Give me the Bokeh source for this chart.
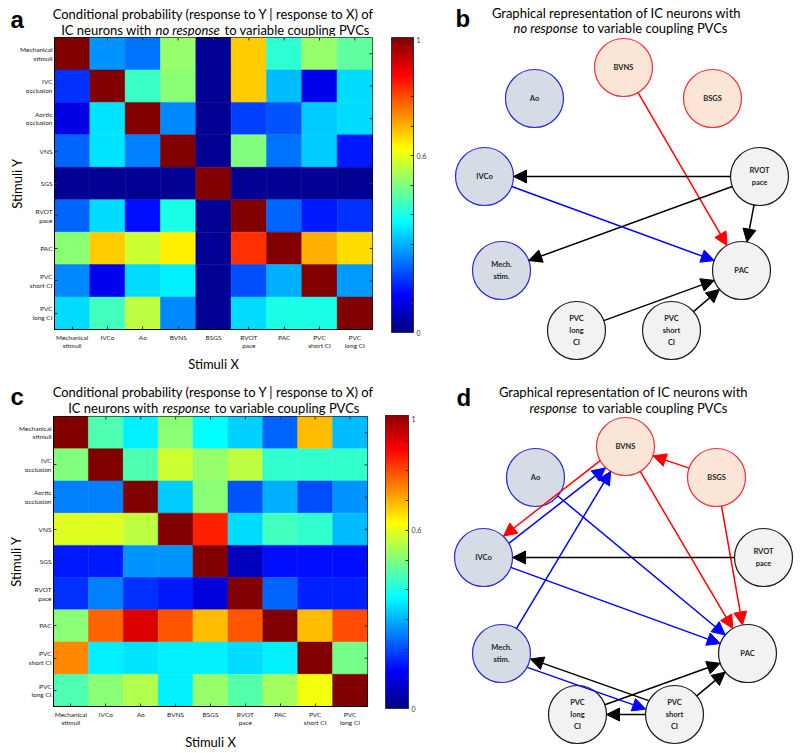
import math
import numpy as np
from bokeh.plotting import figure
from bokeh.models import (ColorBar, LinearColorMapper, FixedTicker, Arrow,
                          NormalHead, ColumnDataSource, Range1d, FactorRange)
from bokeh.layouts import row, column
from bokeh.transform import transform
from bokeh.embed import file_html
from bokeh.resources import INLINE
from bokeh.core.properties import value

# ---------------- data ----------------
stimuli_y = ["Mechanical\nstimuli", "IVC\nocclusion", "Aortic\nocclusion", "VNS", "SGS",
             "RVOT\npace", "PAC", "PVC\nshort CI", "PVC\nlong CI"]
stimuli_x = ["Mechanical\nstimuli", "IVCo", "Ao", "BVNS", "BSGS", "RVOT\npace", "PAC",
             "PVC\nshort CI", "PVC\nlong CI"]

# rows = stimuli Y (top to bottom), columns = stimuli X (left to right)
prob_no_response = [
    [1.00, 0.27, 0.24, 0.52, 0.02, 0.675, 0.42, 0.52, 0.47],
    [0.175, 1.00, 0.43, 0.51, 0.02, 0.675, 0.31, 0.11, 0.34],
    [0.10, 0.35, 1.00, 0.26, 0.02, 0.19, 0.21, 0.325, 0.34],
    [0.225, 0.35, 0.25, 1.00, 0.02, 0.50, 0.24, 0.325, 0.15],
    [0.02, 0.02, 0.02, 0.02, 1.00, 0.02, 0.02, 0.02, 0.02],
    [0.225, 0.34, 0.14, 0.40, 0.02, 1.00, 0.225, 0.15, 0.175],
    [0.51, 0.675, 0.575, 0.64, 0.02, 0.825, 1.00, 0.70, 0.66],
    [0.26, 0.11, 0.34, 0.36, 0.02, 0.20, 0.30, 1.00, 0.275],
    [0.34, 0.44, 0.56, 0.26, 0.02, 0.34, 0.40, 0.40, 1.00],
]
prob_response = [
    [1.00, 0.45, 0.36, 0.51, 0.375, 0.33, 0.225, 0.69, 0.31],
    [0.50, 1.00, 0.45, 0.575, 0.52, 0.56, 0.425, 0.425, 0.425],
    [0.25, 0.25, 1.00, 0.325, 0.51, 0.21, 0.30, 0.20, 0.27],
    [0.59, 0.59, 0.56, 1.00, 0.84, 0.34, 0.44, 0.425, 0.31],
    [0.15, 0.15, 0.27, 0.27, 1.00, 0.06, 0.14, 0.14, 0.14],
    [0.175, 0.25, 0.175, 0.15, 0.09, 1.00, 0.225, 0.16, 0.16],
    [0.51, 0.775, 0.91, 0.79, 0.69, 0.79, 1.00, 0.69, 0.80],
    [0.74, 0.36, 0.35, 0.36, 0.36, 0.34, 0.36, 1.00, 0.49],
    [0.45, 0.51, 0.55, 0.36, 0.52, 0.46, 0.535, 0.61, 1.00],
]

colorbar_ticks = [0, 0.6, 1]
colorbar_minor = [0.1, 0.2, 0.3, 0.4, 0.5, 0.7, 0.8, 0.9]

node_names = ["BVNS", "Ao", "BSGS", "IVCo", "RVOT", "Mech", "PAC", "PVCl", "PVCs"]
node_labels = ["BVNS", "Ao", "BSGS", "IVCo", "RVOT\npace", "Mech.\nstim.", "PAC",
               "PVC\nlong\nCI", "PVC\nshort\nCI"]
node_group = ["red", "blue", "red", "blue", "grey", "blue", "grey", "grey", "grey"]

# graph layouts (layout coordinates, y downwards)
b_node_x = [193, 104, 282, 54, 329, 71, 311, 146, 241]
b_node_y = [67, 98, 98, 176, 176, 270, 270, 330, 330]
d_node_x = [195, 105, 286, 53, 333, 71, 317, 147, 244]
d_node_y = [62, 93, 93, 173, 173, 269, 269, 330, 330]

b_edge_from = ["BVNS", "RVOT", "RVOT", "RVOT", "IVCo", "PVCl", "PVCs"]
b_edge_to = ["PAC", "IVCo", "Mech", "PAC", "PAC", "PAC", "PAC"]
b_edge_kind = ["red", "grey", "grey", "grey", "blue", "grey", "grey"]

d_edge_from = ["BSGS", "BVNS", "IVCo", "Mech", "Ao", "BVNS", "BSGS", "RVOT", "IVCo",
               "Mech", "PVCs", "PVCl", "PVCs", "PVCs"]
d_edge_to = ["BVNS", "IVCo", "BVNS", "BVNS", "PAC", "PAC", "PAC", "IVCo", "PAC",
             "PVCs", "Mech", "PAC", "PAC", "PVCl"]
d_edge_kind = ["red", "red", "blue", "blue", "blue", "red", "red", "grey", "blue",
               "blue", "grey", "grey", "grey", "grey"]

# ---------------- styles ----------------
FONT = "Lato"
TITLE_SIZE = "13px"
BASE_FIX = 4  # rendered baseline sits lower than requested
node_fill = {"red": "#fbe5d6", "blue": "#d6dce5", "grey": "#f2f2f2"}
node_line = {"red": "#e8323c", "blue": "#2a2ad0", "grey": "#1a1a1a"}
edge_color = {"red": "#ff0000", "blue": "#0000ff", "grey": "#000000"}
R = 29


def jet(n=256):
    t = np.linspace(0, 1, n)
    r = np.clip(1.5 - np.abs(4 * t - 3), 0, 1)
    g = np.clip(1.5 - np.abs(4 * t - 2), 0, 1)
    b = np.clip(1.5 - np.abs(4 * t - 1), 0, 1)
    return ["#%02x%02x%02x" % (int(round(255 * a)), int(round(255 * c)), int(round(255 * d)))
            for a, c, d in zip(r, g, b)]


JET = jet()


def canvas_fig(w, h):
    p = figure(width=w, height=h, x_range=Range1d(0, w), y_range=Range1d(h, 0),
               output_backend="svg", toolbar_location=None, min_border=0,
               x_axis_location=None, y_axis_location=None, title=None, frame_align=False)
    p.grid.visible = False
    p.outline_line_color = None
    return p


def put(p, x, y, text, size=TITLE_SIZE, style="normal", align="left",
        font=FONT, color="#000000"):
    p.text(x=[x], y=[y - BASE_FIX], text=[text], text_font=value(font), text_font_size=size,
           text_font_style=style, text_align=align, text_baseline="alphabetic",
           text_color=color)


def title_block(w, h, letter, lx, lby, cx, by1, by2, line1, prefix, pend, italic, ix,
                suffix, sx):
    p = canvas_fig(w, h)
    put(p, lx, lby, letter, size="24px", style="bold", font="Liberation Sans")
    put(p, cx, by1, line1, align="center")
    if prefix:
        put(p, pend, by2, prefix, align="right")
    put(p, ix, by2, italic, style="italic")
    put(p, sx, by2, suffix)
    return p


def heatmap(vals, w, h, bl, bt, br, bb, cb_loc, cb_w, cb_h, xlab_standoff):
    xs, ys, vs = [], [], []
    for i, yl in enumerate(stimuli_y):
        for j, xl in enumerate(stimuli_x):
            xs.append(xl)
            ys.append(yl)
            vs.append(vals[i][j])
    src = ColumnDataSource(dict(x=xs, y=ys, v=vs))
    mapper = LinearColorMapper(palette=JET, low=0, high=1)
    p = figure(width=w, height=h, x_range=FactorRange(*stimuli_x),
               y_range=FactorRange(*stimuli_y[::-1]), output_backend="svg",
               toolbar_location=None, min_border_left=bl, min_border_top=bt,
               min_border_right=br, min_border_bottom=bb, title=None, frame_align=False)
    p.rect("x", "y", 1, 1, source=src, fill_color=transform("v", mapper),
           line_color=transform("v", mapper), line_width=0.5)
    # inward box ticks on the top and right edges (categorical offsets)
    p.ray(x=stimuli_x, y=[(stimuli_y[0], 0.5)] * len(stimuli_x), length=3,
          length_units="screen", angle=-math.pi / 2, line_color="#333333", line_width=1)
    p.ray(x=[(stimuli_x[-1], 0.5)] * len(stimuli_y), y=stimuli_y, length=3,
          length_units="screen", angle=math.pi, line_color="#333333", line_width=1)
    p.grid.visible = False
    p.outline_line_color = "black"
    p.outline_line_width = 1
    for ax in (p.xaxis[0], p.yaxis[0]):
        ax.major_label_text_font = FONT
        ax.major_label_text_font_size = "6.5px"
        ax.major_label_text_color = "#1a1a1a"
        ax.major_tick_in = 3
        ax.major_tick_out = 0
        ax.major_tick_line_color = "#333333"
        ax.axis_line_color = "black"
        ax.major_label_text_line_height = 1.25
        ax.axis_label_text_font = FONT
        ax.axis_label_text_font_size = "13px"
        ax.axis_label_text_font_style = "normal"
        ax.axis_label_text_color = "#000000"
    p.xaxis.axis_label = "Stimuli X"
    p.yaxis.axis_label = "Stimuli Y"
    p.xaxis.major_label_standoff = 4
    p.yaxis.major_label_standoff = 2
    p.xaxis.axis_label_standoff = xlab_standoff
    p.yaxis.axis_label_standoff = -8
    cb = ColorBar(color_mapper=mapper,
                  ticker=FixedTicker(ticks=colorbar_ticks, minor_ticks=colorbar_minor),
                  major_label_overrides={0: "0", 0.6: "0.6", 1: "1"},
                  location=cb_loc, width=cb_w, height=cb_h, padding=0, margin=0,
                  background_fill_color=None, border_line_color=None,
                  bar_line_color="#333333", major_tick_line_color="#333333",
                  major_tick_in=3, minor_tick_line_color="#333333", minor_tick_in=3,
                  major_label_text_font=FONT, major_label_text_font_size="7px",
                  major_label_text_color="#333333", label_standoff=3)
    p.add_layout(cb)
    return p


def graph(w, h, nx, ny, efrom, eto, ekind):
    p = canvas_fig(w, h)
    pos = dict(zip(node_names, zip(nx, ny)))
    pairs = set(zip(efrom, eto))
    for s, t, k in zip(efrom, eto, ekind):
        (x0, y0), (x1, y1) = pos[s], pos[t]
        L = math.hypot(x1 - x0, y1 - y0)
        ux, uy = (x1 - x0) / L, (y1 - y0) / L
        off = 4.5 if (t, s) in pairs else 0.0
        ox, oy = -uy * off, ux * off
        c = edge_color[k]
        p.add_layout(Arrow(end=NormalHead(size=13, fill_color=c, line_color=c, line_width=1),
                           x_start=x0 + R * ux + ox, y_start=y0 + R * uy + oy,
                           x_end=x1 - R * ux + ox, y_end=y1 - R * uy + oy,
                           line_color=c, line_width=1.5))
    src = ColumnDataSource(dict(x=nx, y=ny, label=node_labels,
                                fill=[node_fill[g] for g in node_group],
                                line=[node_line[g] for g in node_group]))
    p.circle("x", "y", radius=R, source=src, fill_color="fill", line_color="line",
             line_width=1.2)
    p.text("x", "y", text="label", source=src, text_align="center", text_baseline="middle",
           text_font=value(FONT), text_font_style="bold", text_font_size="7.5px",
           text_line_height=1.35, text_color="#262626")
    return p


LINE1_A = "Conditional probability (response to Y | response to X) of"
LINE1_B = "Graphical representation of IC neurons with"

# ---------------- panel a ----------------
ta = title_block(430, 36, "a", 10, 23, 213, 17, 33, LINE1_A, "IC neurons with", 151,
                 "no response", 155, "to variable coupling PVCs", 224)
fa = heatmap(prob_no_response, 430, 348, 54, 1, 58, 55, (337, -3), 22, 295, 4)

# ---------------- panel c ----------------
tc = title_block(430, 31, "c", 10, 16, 213, 11, 27, LINE1_A, "IC neurons with", 158,
                 "response", 162, "to variable coupling PVCs", 214)
fc = heatmap(prob_response, 430, 338, 53, 1, 63, 43, (332, -2), 23, 297, 5)

# ---------------- panel b ----------------
fb = graph(370, 384, b_node_x, b_node_y, b_edge_from, b_edge_to, b_edge_kind)
put(fb, 25, 22, "b", size="24px", style="bold", font="Liberation Sans")
put(fb, 186, 16, LINE1_B, align="center")
put(fb, 83, 31, "no response", style="italic")
put(fb, 152, 31, "to variable coupling PVCs")

# ---------------- panel d ----------------
fd = graph(370, 369, d_node_x, d_node_y, d_edge_from, d_edge_to, d_edge_kind)
put(fd, 26, 17, "d", size="24px", style="bold", font="Liberation Sans")
put(fd, 193, 11, LINE1_B, align="center")
put(fd, 99, 27, "response", style="italic")
put(fd, 152, 27, "to variable coupling PVCs")

layout = row(column(ta, fa, tc, fc, spacing=0), column(fb, fd, spacing=0), spacing=0)
open("out.html", "w").write(file_html(layout, INLINE))
